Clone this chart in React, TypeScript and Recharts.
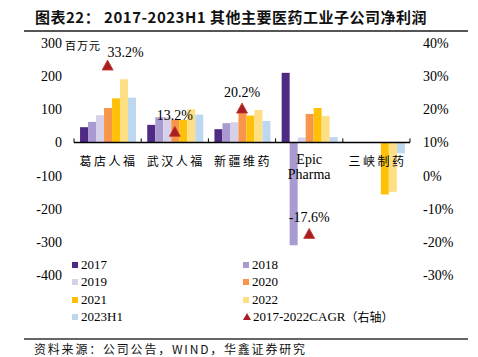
import React from "react";
import {
  ComposedChart, Bar, Line, XAxis, YAxis, ReferenceLine, LabelList,
} from "recharts";

const categories = ["葛店人福", "武汉人福", "新疆维药", "Epic Pharma", "三峡制药"];
const v2017 = [46, 53, 40, 210, null];
const v2018 = [62, 76, 58, -310, null];
const v2019 = [82, 76, 61, 15, null];
const v2020 = [104, 68, 88, 86, null];
const v2021 = [133, 68, 81, 104, -157];
const v2022 = [191, 100, 98, 80, -149];
const v2023H1 = [135, 84, 65, 16, -33];
const cagr = [33.2, 13.2, 20.2, -17.6, null];

const leftTicks = [-400, -300, -200, -100, 0, 100, 200, 300];
const rightTicks = [-30, -20, -10, 0, 10, 20, 30, 40];

const series = [
  { key: "y2017", name: "2017", color: "#4E2A84" },
  { key: "y2018", name: "2018", color: "#A99BD1" },
  { key: "y2019", name: "2019", color: "#D6D0E9" },
  { key: "y2020", name: "2020", color: "#F7964A" },
  { key: "y2021", name: "2021", color: "#FFC107" },
  { key: "y2022", name: "2022", color: "#FFDF84" },
  { key: "y2023", name: "2023H1", color: "#BDD7EE" },
];
const CAGR_COLOR = "#A81E22";

const data = categories.map((c, i) => ({
  name: c,
  y2017: v2017[i],
  y2018: v2018[i],
  y2019: v2019[i],
  y2020: v2020[i],
  y2021: v2021[i],
  y2022: v2022[i],
  y2023: v2023H1[i],
  cagr: cagr[i],
}));

// layout
const W = 478;
const H = 357;
const TOP = 43;
const PLOT_H = 232;
const PLOT_W = 336;
const ZERO_Y = TOP + (PLOT_H * 300) / 700;
const BAND = PLOT_W / categories.length;

const serif = "'Liberation Serif', 'Times New Roman', serif";
const cjk = "'Noto Sans CJK SC', sans-serif";

function CategoryTick(props: any) {
  const { x, payload, index } = props;
  const label: string = payload.value;
  const marks = [x - BAND / 2];
  if (index === categories.length - 1) marks.push(x + BAND / 2);
  return (
    <g>
      {marks.map((mx, i) => (
        <line key={i} x1={mx} x2={mx} y1={ZERO_Y} y2={ZERO_Y - 4} stroke="#000" strokeWidth={1} />
      ))}
      {label === "Epic Pharma" ? (
        <text textAnchor="middle" fontFamily={serif} fontSize={14} fill="#000">
          <tspan x={x} y={ZERO_Y + 22}>Epic</tspan>
          <tspan x={x} y={ZERO_Y + 37}>Pharma</tspan>
        </text>
      ) : (
        <text x={x + 1} y={ZERO_Y + 24} textAnchor="middle" fontFamily={cjk} fontSize={12}
          letterSpacing={2.5} fill="#000">
          {label}
        </text>
      )}
    </g>
  );
}

function Triangle(props: any) {
  const { cx, cy } = props;
  if (cx == null || cy == null || props.value == null) return <g key={props.index} />;
  return (
    <path key={props.index}
      d={`M${cx},${cy - 5.5} L${cx + 5.5},${cy + 4.5} L${cx - 5.5},${cy + 4.5} Z`}
      fill={CAGR_COLOR} stroke="#C0392B" strokeWidth={0.8} />
  );
}

function CagrLabel(props: any) {
  const { x, y, value, index } = props;
  if (value == null) return null;
  const dx = index === 0 ? 18 : 0;
  const dy = index === 0 ? 3 : 0;
  return (
    <text x={x + dx} y={y - 12 + dy} textAnchor="middle" fontFamily={serif} fontSize={14} fill="#000">
      {`${value.toFixed(1)}%`}
    </text>
  );
}

const legendRows = [
  [series[0], series[1]],
  [series[2], series[3]],
  [series[4], series[5]],
  [series[6], null],
];

export default function App() {
  return (
    <div style={{ position: "absolute", left: 0, top: 0, width: W, height: H, background: "#fff", overflow: "hidden" }}>
      <div style={{
        position: "absolute", left: 35, top: 6, fontFamily: cjk, fontWeight: 700, fontSize: 15,
        letterSpacing: 0.5, color: "#111", whiteSpace: "nowrap",
      }}>
        图表22： 2017-2023H1 其他主要医药工业子公司净利润
      </div>
      <div style={{ position: "absolute", left: 24, top: 30, width: 444, height: 1.5, background: "#555" }} />

      <ComposedChart width={W} height={H} data={data}
        margin={{ top: TOP, right: 0, bottom: 52, left: 0 }}
        barCategoryGap="9%" barGap={0}>
        <XAxis dataKey="name" xAxisId={0} axisLine={false} tickLine={false} interval={0}
          height={30} tick={<CategoryTick />} />
        <YAxis yAxisId="left" orientation="left" width={74} domain={[-400, 300]} ticks={leftTicks}
          axisLine={false} tickLine={false} tickMargin={6}
          tick={{ fontFamily: serif, fontSize: 14, fill: "#000" }} />
        <YAxis yAxisId="right" orientation="right" width={68} domain={[-30, 40]} ticks={rightTicks}
          axisLine={false} tickLine={false} tickMargin={7}
          tickFormatter={(v: number) => `${v}%`}
          tick={{ fontFamily: serif, fontSize: 14, fill: "#000", textAnchor: "start" }} />
        {series.map((s) => (
          <Bar key={s.key} yAxisId="left" dataKey={s.key} name={s.name} fill={s.color}
            isAnimationActive={false} />
        ))}
        <ReferenceLine yAxisId="left" y={0} stroke="#000" strokeWidth={1.5} />
        <Line yAxisId="right" dataKey="cagr" name="2017-2022CAGR（右轴）" stroke="none"
          dot={<Triangle />} activeDot={false} isAnimationActive={false} connectNulls={false}>
          <LabelList dataKey="cagr" content={<CagrLabel />} />
        </Line>
      </ComposedChart>

      <div style={{ position: "absolute", left: 65, top: 37, fontFamily: cjk, fontSize: 11, color: "#000", letterSpacing: 1 }}>
        百万元
      </div>

      {legendRows.map((row, r) => (
        <React.Fragment key={r}>
          {row.map((s, c) => {
            const left = c === 0 ? 72 : 243;
            const top = 257 + r * 17.3;
            if (s) {
              return (
                <div key={c} style={{ position: "absolute", left, top, display: "flex", alignItems: "center", fontFamily: serif, fontSize: 13, color: "#000", height: 16 }}>
                  <span style={{ display: "inline-block", width: 6, height: 6, background: s.color, marginRight: 3 }} />
                  {s.name}
                </div>
              );
            }
            return (
              <div key={c} style={{ position: "absolute", left, top, display: "flex", alignItems: "center", fontFamily: serif, fontSize: 13, color: "#000", height: 16, whiteSpace: "nowrap" }}>
                <svg width={8} height={7} style={{ marginRight: 2 }}>
                  <path d="M4,0 L8,7 L0,7 Z" fill={CAGR_COLOR} />
                </svg>
                2017-2022CAGR<span style={{ fontFamily: cjk, fontSize: 12 }}>（右轴）</span>
              </div>
            );
          })}
        </React.Fragment>
      ))}

      <div style={{ position: "absolute", left: 24, top: 338, width: 444, height: 1.5, background: "#666" }} />
      <div style={{
        position: "absolute", left: 34, top: 340, fontFamily: cjk, fontSize: 12, letterSpacing: 1.8,
        color: "#111", whiteSpace: "nowrap",
      }}>
        资料来源：公司公告，WIND，华鑫证券研究
      </div>
    </div>
  );
}
